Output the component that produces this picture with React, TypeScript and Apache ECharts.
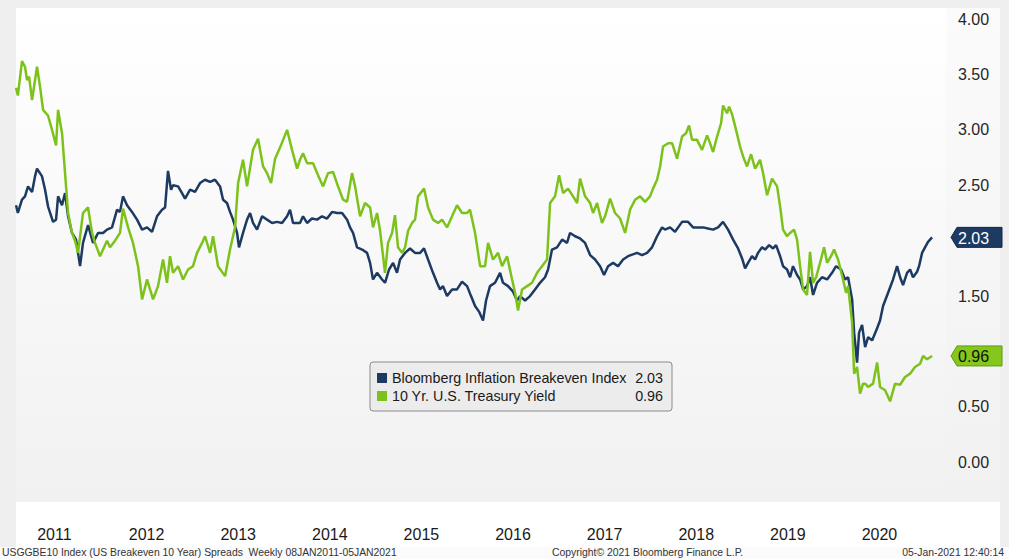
import React, { useEffect, useRef } from 'react';
import * as echarts from 'echarts';

// Weekly data: [fractional year, value]
const breakeven: [number, number][] = [
  [2011.02, 2.32], [2011.04, 2.25], [2011.085, 2.37], [2011.118, 2.40], [2011.151, 2.49], [2011.195, 2.44],
  [2011.227, 2.58], [2011.249, 2.65], [2011.304, 2.58], [2011.337, 2.46], [2011.369, 2.31], [2011.424, 2.17],
  [2011.457, 2.19], [2011.479, 2.40], [2011.522, 2.32], [2011.555, 2.43], [2011.588, 2.22], [2011.631, 2.07],
  [2011.675, 2.01], [2011.719, 1.77], [2011.751, 1.98], [2011.806, 2.14], [2011.861, 1.98], [2011.915, 2.07],
  [2011.97, 2.07], [2012.013, 2.10], [2012.068, 2.12], [2012.123, 2.28], [2012.155, 2.26], [2012.188, 2.40],
  [2012.232, 2.32], [2012.286, 2.26], [2012.341, 2.19], [2012.396, 2.10], [2012.45, 2.12], [2012.505, 2.08],
  [2012.559, 2.22], [2012.614, 2.28], [2012.647, 2.30], [2012.679, 2.63], [2012.712, 2.46], [2012.734, 2.50],
  [2012.789, 2.49], [2012.832, 2.43], [2012.865, 2.38], [2012.92, 2.46], [2012.974, 2.44], [2013.029, 2.52],
  [2013.083, 2.55], [2013.138, 2.53], [2013.192, 2.55], [2013.247, 2.49], [2013.28, 2.37], [2013.323, 2.34],
  [2013.356, 2.26], [2013.389, 2.19], [2013.433, 2.07], [2013.454, 1.94], [2013.498, 2.07], [2013.542, 2.19],
  [2013.575, 2.25], [2013.607, 2.16], [2013.651, 2.10], [2013.706, 2.22], [2013.76, 2.19], [2013.815, 2.16],
  [2013.869, 2.17], [2013.924, 2.16], [2013.979, 2.22], [2014.011, 2.28], [2014.044, 2.16], [2014.12, 2.16],
  [2014.153, 2.22], [2014.197, 2.16], [2014.251, 2.20], [2014.306, 2.19], [2014.361, 2.22], [2014.415, 2.20],
  [2014.47, 2.26], [2014.524, 2.25], [2014.579, 2.25], [2014.634, 2.19], [2014.666, 2.12], [2014.699, 2.07],
  [2014.743, 1.94], [2014.798, 1.92], [2014.852, 1.89], [2014.885, 1.80], [2014.917, 1.65], [2014.961, 1.71],
  [2015.016, 1.65], [2015.048, 1.62], [2015.092, 1.74], [2015.136, 1.80], [2015.179, 1.71], [2015.212, 1.83],
  [2015.267, 1.89], [2015.321, 1.93], [2015.376, 1.89], [2015.431, 1.89], [2015.474, 1.93], [2015.518, 1.83],
  [2015.572, 1.71], [2015.616, 1.62], [2015.649, 1.56], [2015.681, 1.59], [2015.725, 1.50], [2015.78, 1.56],
  [2015.834, 1.56], [2015.889, 1.63], [2015.944, 1.59], [2015.987, 1.50], [2016.031, 1.41], [2016.074, 1.36],
  [2016.118, 1.28], [2016.151, 1.46], [2016.194, 1.59], [2016.249, 1.62], [2016.304, 1.71], [2016.336, 1.62],
  [2016.391, 1.59], [2016.446, 1.54], [2016.489, 1.46], [2016.522, 1.50], [2016.577, 1.46], [2016.631, 1.50],
  [2016.686, 1.56], [2016.74, 1.62], [2016.795, 1.67], [2016.828, 1.74], [2016.871, 1.92], [2016.926, 1.94],
  [2016.981, 2.01], [2017.035, 1.98], [2017.068, 2.07], [2017.123, 2.04], [2017.177, 2.02], [2017.232, 1.98],
  [2017.287, 1.87], [2017.341, 1.83], [2017.396, 1.77], [2017.439, 1.69], [2017.483, 1.77], [2017.538, 1.80],
  [2017.592, 1.77], [2017.647, 1.83], [2017.701, 1.86], [2017.799, 1.89], [2017.854, 1.87], [2017.909, 1.89],
  [2017.963, 1.94], [2018.018, 2.04], [2018.072, 2.12], [2018.105, 2.10], [2018.16, 2.12], [2018.214, 2.08],
  [2018.291, 2.17], [2018.356, 2.17], [2018.411, 2.12], [2018.465, 2.12], [2018.52, 2.12], [2018.574, 2.11],
  [2018.629, 2.10], [2018.684, 2.12], [2018.738, 2.17], [2018.793, 2.10], [2018.848, 2.01], [2018.902, 1.93],
  [2018.946, 1.84], [2018.979, 1.75], [2019.011, 1.80], [2019.055, 1.86], [2019.088, 1.83], [2019.12, 1.89],
  [2019.164, 1.94], [2019.197, 1.92], [2019.241, 1.96], [2019.284, 1.93], [2019.317, 1.96], [2019.361, 1.86],
  [2019.393, 1.77], [2019.437, 1.74], [2019.47, 1.67], [2019.502, 1.77], [2019.546, 1.69], [2019.579, 1.65],
  [2019.612, 1.56], [2019.655, 1.59], [2019.688, 1.67], [2019.721, 1.51], [2019.764, 1.62], [2019.819, 1.67],
  [2019.874, 1.65], [2019.928, 1.71], [2019.972, 1.77], [2020.026, 1.74], [2020.07, 1.65], [2020.103, 1.67],
  [2020.147, 1.47], [2020.169, 1.17], [2020.201, 0.90], [2020.223, 1.17], [2020.256, 1.24], [2020.289, 1.04],
  [2020.322, 1.13], [2020.365, 1.10], [2020.42, 1.21], [2020.452, 1.28], [2020.485, 1.41], [2020.54, 1.53],
  [2020.594, 1.65], [2020.638, 1.77], [2020.671, 1.67], [2020.703, 1.60], [2020.747, 1.71], [2020.78, 1.74],
  [2020.812, 1.67], [2020.856, 1.72], [2020.878, 1.77], [2020.911, 1.89], [2020.943, 1.94], [2020.976, 1.99],
  [2021.02, 2.03],
];

const treasury: [number, number][] = [
  [2011.02, 3.38], [2011.04, 3.31], [2011.085, 3.62], [2011.118, 3.57], [2011.14, 3.45], [2011.162, 3.48],
  [2011.195, 3.27], [2011.249, 3.57], [2011.282, 3.39], [2011.315, 3.18], [2011.369, 3.13], [2011.413, 3.00],
  [2011.457, 2.86], [2011.479, 3.18], [2011.522, 2.97], [2011.555, 2.61], [2011.588, 2.25], [2011.631, 2.07],
  [2011.664, 2.00], [2011.697, 1.89], [2011.751, 2.25], [2011.806, 2.30], [2011.85, 2.07], [2011.882, 1.98],
  [2011.937, 1.86], [2012.013, 2.00], [2012.046, 1.94], [2012.101, 2.00], [2012.155, 2.07], [2012.188, 2.29],
  [2012.243, 2.12], [2012.297, 1.98], [2012.352, 1.77], [2012.396, 1.47], [2012.45, 1.65], [2012.516, 1.47],
  [2012.57, 1.59], [2012.625, 1.83], [2012.668, 1.62], [2012.701, 1.86], [2012.734, 1.71], [2012.789, 1.77],
  [2012.843, 1.65], [2012.898, 1.74], [2012.952, 1.77], [2012.996, 1.89], [2013.051, 1.98], [2013.083, 2.04],
  [2013.138, 1.89], [2013.171, 2.04], [2013.225, 1.77], [2013.302, 1.68], [2013.356, 1.92], [2013.411, 2.12],
  [2013.444, 2.52], [2013.498, 2.73], [2013.542, 2.49], [2013.607, 2.82], [2013.662, 2.92], [2013.717, 2.67],
  [2013.76, 2.61], [2013.804, 2.52], [2013.848, 2.74], [2013.902, 2.84], [2013.979, 3.00], [2014.033, 2.82],
  [2014.088, 2.65], [2014.12, 2.73], [2014.153, 2.79], [2014.197, 2.70], [2014.262, 2.70], [2014.317, 2.59],
  [2014.372, 2.49], [2014.426, 2.61], [2014.481, 2.62], [2014.535, 2.49], [2014.59, 2.37], [2014.634, 2.35],
  [2014.688, 2.61], [2014.721, 2.49], [2014.776, 2.22], [2014.83, 2.34], [2014.885, 2.30], [2014.917, 2.12],
  [2014.961, 2.25], [2014.994, 2.09], [2015.048, 1.71], [2015.081, 1.98], [2015.125, 2.07], [2015.157, 2.23],
  [2015.19, 1.94], [2015.234, 1.89], [2015.267, 1.94], [2015.3, 2.09], [2015.343, 2.16], [2015.376, 2.19],
  [2015.409, 2.40], [2015.474, 2.47], [2015.518, 2.30], [2015.572, 2.19], [2015.627, 2.16], [2015.671, 2.19],
  [2015.725, 2.12], [2015.78, 2.22], [2015.834, 2.32], [2015.889, 2.25], [2015.944, 2.25], [2015.976, 2.28],
  [2016.031, 2.07], [2016.086, 1.77], [2016.14, 1.77], [2016.173, 1.98], [2016.227, 1.83], [2016.282, 1.89],
  [2016.326, 1.77], [2016.38, 1.86], [2016.435, 1.65], [2016.468, 1.53], [2016.5, 1.37], [2016.544, 1.56],
  [2016.599, 1.59], [2016.653, 1.62], [2016.708, 1.71], [2016.762, 1.77], [2016.817, 1.83], [2016.85, 2.34],
  [2016.904, 2.40], [2016.948, 2.59], [2016.992, 2.43], [2017.046, 2.47], [2017.101, 2.40], [2017.145, 2.34],
  [2017.177, 2.56], [2017.232, 2.40], [2017.287, 2.34], [2017.319, 2.25], [2017.363, 2.34], [2017.417, 2.16],
  [2017.45, 2.22], [2017.505, 2.38], [2017.559, 2.25], [2017.614, 2.20], [2017.669, 2.07], [2017.723, 2.28],
  [2017.778, 2.37], [2017.832, 2.40], [2017.887, 2.35], [2017.941, 2.40], [2017.974, 2.47], [2018.018, 2.55],
  [2018.051, 2.67], [2018.083, 2.85], [2018.138, 2.88], [2018.182, 2.88], [2018.236, 2.74], [2018.291, 2.94],
  [2018.334, 2.97], [2018.367, 3.04], [2018.4, 2.91], [2018.454, 2.91], [2018.509, 2.82], [2018.564, 2.95],
  [2018.596, 2.88], [2018.629, 2.80], [2018.673, 2.94], [2018.717, 3.06], [2018.738, 3.22], [2018.782, 3.15],
  [2018.804, 3.21], [2018.837, 3.14], [2018.88, 3.00], [2018.924, 2.85], [2018.957, 2.76], [2019.0, 2.67],
  [2019.044, 2.78], [2019.088, 2.65], [2019.142, 2.73], [2019.175, 2.61], [2019.219, 2.41], [2019.273, 2.56],
  [2019.328, 2.49], [2019.361, 2.31], [2019.393, 2.10], [2019.437, 2.04], [2019.47, 2.07], [2019.513, 2.10],
  [2019.546, 2.01], [2019.579, 1.77], [2019.612, 1.56], [2019.655, 1.51], [2019.688, 1.90], [2019.721, 1.62],
  [2019.754, 1.67], [2019.797, 1.80], [2019.841, 1.94], [2019.874, 1.80], [2019.917, 1.86], [2019.95, 1.92],
  [2019.994, 1.83], [2020.048, 1.65], [2020.081, 1.53], [2020.103, 1.59], [2020.147, 1.26], [2020.169, 0.80],
  [2020.201, 0.86], [2020.234, 0.62], [2020.267, 0.71], [2020.289, 0.71], [2020.322, 0.68], [2020.376, 0.71],
  [2020.42, 0.90], [2020.452, 0.68], [2020.507, 0.65], [2020.562, 0.55], [2020.616, 0.71], [2020.671, 0.70],
  [2020.725, 0.77], [2020.78, 0.80], [2020.834, 0.86], [2020.889, 0.89], [2020.922, 0.96], [2020.965, 0.93],
  [2021.02, 0.96],
];

const seriesNames = ['Bloomberg Inflation Breakeven Index', '10 Yr. U.S. Treasury Yield'];
const yearLabels = ['2011', '2012', '2013', '2014', '2015', '2016', '2017', '2018', '2019', '2020'];
const yTickLabels = ['0.00', '0.50', '1.50', '2.50', '3.00', '3.50', '4.00'];
const footerLeft = 'USGGBE10 Index (US Breakeven 10 Year) Spreads  Weekly 08JAN2011-05JAN2021';
const footerMid = 'Copyright\u00A9 2021 Bloomberg Finance L.P.';
const footerRight = '05-Jan-2021 12:40:14';

const BLUE = '#1c3a62';
const GREEN = '#7dc21b';
const FONT = 'Liberation Sans';
const LEG_FS = 14.3;

function grad(a: string, b: string) {
  return {
    type: 'linear', x: 0, y: 0, x2: 0, y2: 1,
    colorStops: [{ offset: 0, color: a }, { offset: 1, color: b }],
  };
}

export default function App() {
  const ref = useRef<HTMLDivElement>(null);
  useEffect(() => {
    document.body.style.margin = '0';
    const chart = echarts.init(ref.current!, null, { renderer: 'svg' });
    const lastB = breakeven[breakeven.length - 1][1];
    const lastT = treasury[treasury.length - 1][1];
    const lastVals = [lastB.toFixed(2), lastT.toFixed(2)];

    const option: any = {
      animation: false,
      backgroundColor: '#efefef',
      textStyle: { fontFamily: FONT },
      grid: { left: 14.2, right: 64.1, top: 8, bottom: 41.3, containLabel: false },
      xAxis: {
        type: 'value', min: 2011, max: 2021.16, interval: 1,
        axisLine: { show: false }, axisTick: { show: false }, splitLine: { show: false },
        axisLabel: {
          formatter: (v: number) => {
            const s = String(Math.round(v));
            return Math.abs(v - Math.round(v)) < 0.01 && yearLabels.includes(s) ? s : '';
          },
          align: 'left', padding: [0, 0, 0, 23], margin: 9,
          fontSize: 16, color: '#1a1a1a', fontFamily: FONT,
        },
      },
      yAxis: {
        type: 'value', position: 'right', min: -0.5, max: 4.1, interval: 0.5,
        axisLine: { show: false }, axisTick: { show: false }, splitLine: { show: false },
        axisLabel: {
          formatter: (v: number) => {
            const s = v.toFixed(2);
            return yTickLabels.includes(s) ? s : '';
          },
          margin: 13, fontSize: 16, color: '#262626', fontFamily: FONT,
        },
      },
      legend: {
        left: 370, top: 362, orient: 'vertical', icon: 'rect',
        itemWidth: 10, itemHeight: 10, itemGap: 2,
        padding: [8, 9, 7, 7],
        backgroundColor: '#ececec', borderColor: '#8a8a8a', borderWidth: 1, borderRadius: 3,
        data: seriesNames,
        formatter: (name: string) => `{n|${name}}{v|${lastVals[seriesNames.indexOf(name)]}}`,
        textStyle: {
          fontSize: LEG_FS, color: '#1a1a1a', fontFamily: FONT, lineHeight: 16,
          rich: {
            n: { width: 242, fontSize: LEG_FS, fontFamily: FONT, color: '#1a1a1a' },
            v: { width: 29, align: 'right', fontSize: LEG_FS, fontFamily: FONT, color: '#1a1a1a' },
          },
        },
      },
      series: [
        {
          name: seriesNames[0], type: 'line', data: breakeven, showSymbol: false,
          lineStyle: { color: BLUE, width: 2.5 }, itemStyle: { color: BLUE }, z: 3,
        },
        {
          name: seriesNames[1], type: 'line', data: treasury, showSymbol: false,
          lineStyle: { color: GREEN, width: 2.5 }, itemStyle: { color: GREEN }, z: 4,
        },
      ],
    };
    chart.setOption(option);

    const yb = chart.convertToPixel({ yAxisIndex: 0 }, lastB) as number;
    const yt = chart.convertToPixel({ yAxisIndex: 0 }, lastT) as number;
    const tag = (y: number) => [[951, y], [957, y - 10], [1002, y - 10], [1002, y + 10], [957, y + 10]];
    const FT = 10.4;

    chart.setOption({
      graphic: [
        { type: 'rect', id: 'panel', z: 0, silent: true, shape: { x: 16, y: 8, width: 930, height: 494 }, style: { fill: grad('#ffffff', '#f1f1f1') } },
        { type: 'rect', id: 'col', z: 0, silent: true, shape: { x: 946, y: 8, width: 54, height: 494 }, style: { fill: grad('#fbfbfb', '#f1f1f1') } },
        { type: 'rect', id: 'strip', z: 0, silent: true, shape: { x: 16, y: 502, width: 984, height: 45 }, style: { fill: '#ffffff' } },
        { type: 'rect', id: 'foot', z: 0, silent: true, shape: { x: 0, y: 547, width: 1009, height: 12 }, style: { fill: '#fbfbfb' } },
        { type: 'text', id: 'fl', z: 5, x: 2, y: 552, style: { text: footerLeft, fontSize: FT, fontFamily: FONT, fill: '#333333', verticalAlign: 'middle', align: 'left' } },
        { type: 'text', id: 'fm', z: 5, x: 552, y: 552, style: { text: footerMid, fontSize: FT, fontFamily: FONT, fill: '#333333', verticalAlign: 'middle', align: 'left' } },
        { type: 'text', id: 'fr', z: 5, x: 1004, y: 552, style: { text: footerRight, fontSize: FT, fontFamily: FONT, fill: '#333333', verticalAlign: 'middle', align: 'right' } },
        { type: 'polygon', id: 'tagB', z: 10, shape: { points: tag(yb) }, style: { fill: BLUE, stroke: '#13294a', lineWidth: 1 } },
        { type: 'text', id: 'tagBt', z: 11, x: 958, y: yb + 1, style: { text: lastVals[0], fontSize: 16, fontFamily: FONT, fill: '#ffffff', verticalAlign: 'middle', align: 'left' } },
        { type: 'polygon', id: 'tagT', z: 10, shape: { points: tag(yt) }, style: { fill: '#86c71c', stroke: '#5c9a10', lineWidth: 1 } },
        { type: 'text', id: 'tagTt', z: 11, x: 958, y: yt + 1, style: { text: lastVals[1], fontSize: 16, fontFamily: FONT, fill: '#111111', verticalAlign: 'middle', align: 'left' } },
      ],
    });

    return () => chart.dispose();
  }, []);
  return <div ref={ref} style={{ position: 'absolute', left: 0, top: 0, width: 1009, height: 559 }} />;
}
